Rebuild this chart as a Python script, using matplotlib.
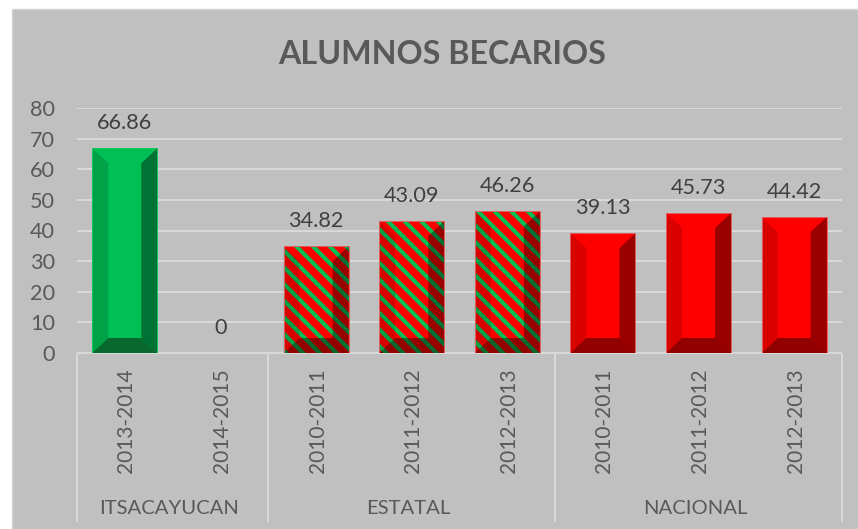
import matplotlib
matplotlib.use("Agg")
import matplotlib.pyplot as plt
from matplotlib.patches import Rectangle, Polygon

plt.rcParams['font.family'] = ['Lato', 'DejaVu Sans']
plt.rcParams['hatch.linewidth'] = 3.0

years = ['2013-2014', '2014-2015', '2010-2011', '2011-2012', '2012-2013',
         '2010-2011', '2011-2012', '2012-2013']
values = [66.86, 0, 34.82, 43.09, 46.26, 39.13, 45.73, 44.42]
value_labels = ['66.86', '0', '34.82', '43.09', '46.26', '39.13', '45.73', '44.42']
groups = ['ITSACAYUCAN', 'ESTATAL', 'NACIONAL']
group_sizes = [2, 3, 3]
title = 'ALUMNOS BECARIOS'

W, H = 858, 529
BG = '#C0C0C0'
GRID = '#D9D9D9'
TXT = '#595959'
GREEN = '#00BF55'
RED = '#FF0000'
styles = [
    (GREEN, None, '#10C860'),
    (GREEN, None, '#10C860'),
    (RED, GREEN, '#E06060'),
    (RED, GREEN, '#E06060'),
    (RED, GREEN, '#E06060'),
    (RED, None, '#E06060'),
    (RED, None, '#E06060'),
    (RED, None, '#E06060'),
]

fig = plt.figure(figsize=(W / 100, H / 100), dpi=100, facecolor='white')
fig.add_artist(Rectangle((12 / W, 0.5 / H), (W - 12) / W, (H - 9.5) / H,
                         transform=fig.transFigure, facecolor=BG,
                         edgecolor='#D4D4D4', linewidth=1.0, zorder=-5))

ax_l, ax_r, ax_top, ax_bot = 77, 842, 108, 353
ax = fig.add_axes([ax_l / W, 1 - ax_bot / H, (ax_r - ax_l) / W, (ax_bot - ax_top) / H])
ax.set_facecolor('none')
ax.set_xlim(0, len(values))
ax.set_ylim(0, 80)
for s in ax.spines.values():
    s.set_visible(False)
ax.set_yticks(range(0, 81, 10))
ax.set_axisbelow(True)
ax.grid(axis='y', color=GRID, linewidth=1.4)
ax.tick_params(axis='y', length=0, pad=16, labelsize=15.6, labelcolor=TXT)
ax.tick_params(axis='x', length=0)
ax.set_xticks([])

xs = [i + 0.5 for i in range(len(values))]
bar_w = 0.68
bw_px = 16
dx = bw_px * len(values) / (ax_r - ax_l)
dy = 15 * 80 / (ax_bot - ax_top)

for x, v, lab, (base, stripe, edge) in zip(xs, values, value_labels, styles):
    ax.annotate(lab, (x, v), xytext=(0, 18), textcoords='offset points',
                ha='center', va='center', fontsize=15.6, color='#404040')
    if v <= 0:
        continue
    l, r = x - bar_w / 2, x + bar_w / 2
    ax.bar(x, v, bar_w, color=base, hatch='\\\\' if stripe else None,
           edgecolor=stripe if stripe else base, linewidth=0, zorder=3)
    ax.add_patch(Polygon([(l, 0), (l + dx, dy), (l + dx, v - dy), (l, v)],
                         facecolor='black', alpha=0.15, linewidth=0, zorder=4))
    ax.add_patch(Polygon([(r, 0), (r - dx, dy), (r - dx, v - dy), (r, v)],
                         facecolor='black', alpha=0.40, linewidth=0, zorder=4))
    ax.add_patch(Polygon([(l, 0), (l + dx, dy), (r - dx, dy), (r, 0)],
                         facecolor='#100000', alpha=0.45, linewidth=0, zorder=4))
    ax.bar(x, v, bar_w, fill=False, edgecolor=edge, linewidth=0.7, zorder=5)

tr = ax.get_xaxis_transform()
ax_h = ax_bot - ax_top
def yax(py):
    return 1 - (py - ax_top) / ax_h

ax.plot([0, len(values)], [0, 0], transform=tr, color=GRID, lw=1.4,
        clip_on=False, zorder=2, solid_capstyle='butt')
pos = 0
px = len(values) / (ax_r - ax_l)
for g, n in zip(groups, group_sizes):
    ax.plot([pos, pos], [yax(353), yax(522)], transform=tr, color=GRID, lw=1.4,
            clip_on=False, solid_capstyle='butt')
    ax.text(pos + n / 2 - 3.5 * px, yax(508.5), g, transform=tr, ha='center', va='center',
            fontsize=14.6, color=TXT)
    pos += n
ax.plot([pos, pos], [yax(353), yax(522)], transform=tr, color=GRID, lw=1.4,
        clip_on=False, solid_capstyle='butt')

for x, y in zip(xs, years):
    ax.text(x + 1.5 * px, yax(421), y, transform=tr, rotation=90, ha='center', va='center',
            fontsize=15, color=TXT)

fig.text(442 / W, 1 - 55 / H, title, ha='center', va='center', fontsize=23.2,
         fontweight='bold', color=TXT)

fig.savefig('out.png', dpi=100, facecolor='white')
